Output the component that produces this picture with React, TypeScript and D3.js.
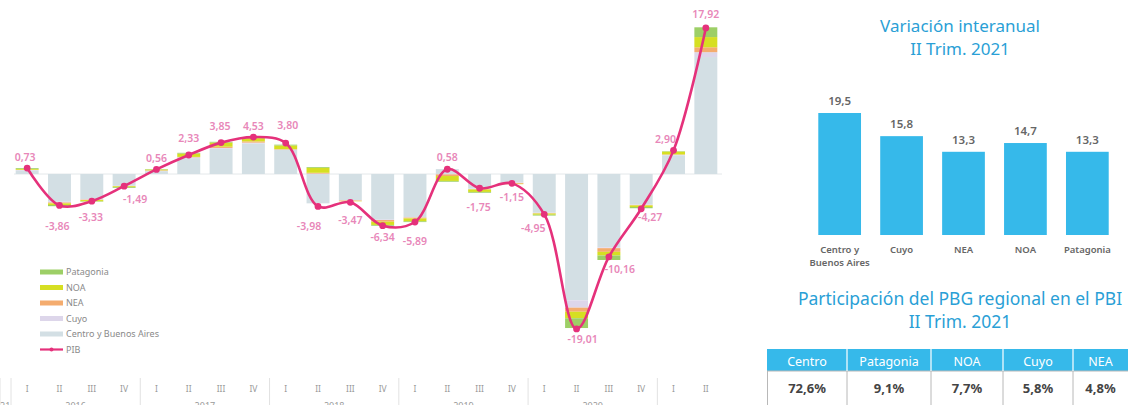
import React from "react";
import * as d3 from "d3";

const quarters = ["I","II","III","IV","I","II","III","IV","I","II","III","IV","I","II","III","IV","I","II","III","IV","I","II"];
const years = ["2016","2017","2018","2019","2020","2021"];
const yearQuarterCounts = [4,4,4,4,4,2];

const regions = ["Centro y Buenos Aires","Cuyo","NEA","NOA","Patagonia"];
const centro =    [0.45,-3.4,-3.1,-1.45,0.35,1.95,3.1,3.75,2.95,-3.6,-3.2,-5.6,-5.3,0.6,-1.8,-1.05,-4.75,-15.5,-9.0,-3.75,2.3,14.35];
const cuyo =      [0.05,-0.1,-0.05,-0.05,0.05,0.1,0.1,0.1,0.05,0.05,-0.05,-0.05,-0.05,-0.05,-0.05,-0.05,-0.05,-0.9,-0.1,-0.05,0.05,0.6];
const nea =       [0.02,-0.1,-0.05,0,0.05,0.05,0.15,0.15,0.05,0.1,-0.05,-0.2,-0.1,-0.2,-0.05,-0.1,-0.05,-0.5,-0.45,-0.05,0.05,0.6];
const noa =       [0.1,-0.2,-0.15,-0.1,0.1,0.4,0.5,0.4,0.45,0.6,-0.05,-0.4,-0.35,-0.6,-0.3,-0.05,-0.15,-0.8,-0.45,-0.2,0.35,1.25];
const patagonia = [0.1,-0.15,-0.05,-0.1,0.05,0.1,0.1,0.1,0.1,0.1,0,-0.1,-0.1,-0.1,-0.1,0,-0.1,-1.2,-0.55,-0.15,0.05,1.2];
const pib = [0.73,-3.86,-3.33,-1.49,0.56,2.33,3.85,4.53,3.80,-3.98,-3.47,-6.34,-5.89,0.58,-1.75,-1.15,-4.95,-19.01,-10.16,-4.27,2.90,17.92];
// label offsets (dx, dy) relative to the point
const labelDx = [-2,-2,-1,11,0,0,-1,0,2,-9,0,0,0,0,-1,0,-11,6,11,9,-8,0];
const labelDy = [-11,21,16,13,-11,-17,-16,-11,-18,20,18,12,19,-12,19,14,14,10,13,9,-11,-14];

const varCats = ["Centro y|Buenos Aires","Cuyo","NEA","NOA","Patagonia"];
const varValues = [19.5,15.8,13.3,14.7,13.3];

const shareCats = ["Centro","Patagonia","NOA","Cuyo","NEA"];
const shareValues = ["72,6%","9,1%","7,7%","5,8%","4,8%"];

const colors: Record<string,string> = {
  "Centro y Buenos Aires": "#d3dfe4",
  "Cuyo": "#ddd6ea",
  "NEA": "#f4ac6e",
  "NOA": "#d6df22",
  "Patagonia": "#9dcf66",
};
const PINK = "#e5317b";
const PINK_LABEL = "#e887b9";
const BLUE = "#36b9ea";
const TITLE_BLUE = "#2a9fd6";
const FONT = "'Noto Sans', 'Open Sans', sans-serif";

const fmt = (v: number) => v.toFixed(2).replace(".", ",");

export default function App() {
  const W = 1128, H = 405;
  const x = d3.scaleBand<number>().domain(d3.range(quarters.length)).range([11, 722]).paddingInner(0.29).paddingOuter(0.145);
  const k = 8.15;
  const y = d3.scaleLinear().domain([-20, 19]).range([174 + 20 * k, 174 - 19 * k]);

  const rows = quarters.map((_, i) => ({
    "Centro y Buenos Aires": centro[i], "Cuyo": cuyo[i], "NEA": nea[i], "NOA": noa[i], "Patagonia": patagonia[i],
  }));
  const series = d3.stack<any>().keys(regions).offset(d3.stackOffsetDiverging)(rows);

  const cx = (i: number) => (x(i) as number) + x.bandwidth() / 2;
  const line = d3.line<number>().x((_, i) => cx(i)).y(d => y(d)).curve(d3.curveCatmullRom.alpha(0.5));

  let acc = 0;
  const yearGroups = years.map((yr, j) => {
    const start = acc; acc += yearQuarterCounts[j];
    return { yr, start, end: acc };
  });
  const step = x.step();
  const leftEdge = (i: number) => cx(i) - step / 2;

  const x2 = d3.scaleBand<number>().domain(d3.range(varCats.length)).range([809, 1118]).paddingInner(0.31).paddingOuter(0.15);
  const y2 = d3.scaleLinear().domain([0, 19.5]).range([235, 113]);

  const legendItems = ["Patagonia","NOA","NEA","Cuyo","Centro y Buenos Aires"];

  const colEdges = [767, 847, 931, 1003, 1073, 1140];

  return (
    <svg width={W} height={H} style={{ position: "absolute", left: 0, top: 0, display: "block" }} fontFamily={FONT}>
      <rect width={W} height={H} fill="#fff" />
      <line x1={14} x2={722} y1={y(0)} y2={y(0)} stroke="#e4e8ea" strokeWidth={1} />
      {series.map(s => (
        <g key={s.key} fill={colors[s.key]}>
          {s.map((d, i) => (
            <rect key={i} x={x(i)} width={x.bandwidth()} y={y(Math.max(d[0], d[1]))} height={Math.abs(y(d[0]) - y(d[1]))} />
          ))}
        </g>
      ))}
      <path d={line(pib) || ""} fill="none" stroke={PINK} strokeWidth={2.6} />
      {pib.map((v, i) => (
        <circle key={i} cx={cx(i)} cy={y(v)} r={3.4} fill={PINK} />
      ))}
      {pib.map((v, i) => (
        <text key={"l" + i} x={cx(i) + labelDx[i]} y={y(v) + labelDy[i]} dy="0.35em" textAnchor="middle" fontSize={10.5} fontWeight={600} fill={PINK_LABEL}>{fmt(v)}</text>
      ))}
      {legendItems.map((name, j) => (
        <g key={name} transform={`translate(40, ${272 + j * 15.5})`}>
          <rect x={0} y={-2.5} width={23} height={5} fill={colors[name]} />
          <text x={26} y={0} dy="0.35em" fontSize={9} fill="#8a8a8a">{name}</text>
        </g>
      ))}
      <g transform={`translate(40, ${272 + 5 * 15.5})`}>
        <line x1={0} x2={23} y1={0} y2={0} stroke={PINK} strokeWidth={2.2} />
        <circle cx={11.5} cy={0} r={2} fill={PINK} />
        <text x={26} y={0} dy="0.35em" fontSize={9} fill="#8a8a8a">PIB</text>
      </g>
      {quarters.map((q, i) => (
        <text key={"q" + i} x={cx(i)} y={392} textAnchor="middle" fontSize={8.5} fill="#9a9a9a">{q}</text>
      ))}
      {yearGroups.map(g => (
        <line key={"s" + g.yr} x1={leftEdge(g.start)} x2={leftEdge(g.start)} y1={378} y2={405} stroke="#e2e2e2" />
      ))}
      <line x1={leftEdge(quarters.length)} x2={leftEdge(quarters.length)} y1={378} y2={405} stroke="#e2e2e2" />
      {yearGroups.map(g => (
        <text key={"y" + g.yr} x={(leftEdge(g.start) + leftEdge(g.end)) / 2} y={409} textAnchor="middle" fontSize={9} fill="#9a9a9a">{g.yr}</text>
      ))}

      <text x={960} y={32} textAnchor="middle" fontSize={17} fill={TITLE_BLUE}>Variación interanual</text>
      <text x={960} y={55} textAnchor="middle" fontSize={17} fill={TITLE_BLUE}>II Trim. 2021</text>
      {varValues.map((v, i) => (
        <g key={"v" + i}>
          <rect x={x2(i)} width={x2.bandwidth()} y={y2(v)} height={y2(0) - y2(v)} fill={BLUE} />
          <text x={(x2(i) as number) + x2.bandwidth() / 2} y={y2(v) - 8} textAnchor="middle" fontSize={11.5} fontWeight={600} fill="#666">{v.toFixed(1).replace(".", ",")}</text>
          {varCats[i].split("|").map((ln, j) => (
            <text key={j} x={(x2(i) as number) + x2.bandwidth() / 2} y={253 + j * 13} textAnchor="middle" fontSize={9.5} fontWeight={600} fill="#666">{ln}</text>
          ))}
        </g>
      ))}

      <text x={960} y={305} textAnchor="middle" fontSize={17.5} fill={TITLE_BLUE}>Participación del PBG regional en el PBI</text>
      <text x={960} y={328} textAnchor="middle" fontSize={17.5} fill={TITLE_BLUE}>II Trim. 2021</text>
      <rect x={colEdges[0]} y={349} width={1128 - colEdges[0]} height={22} fill={BLUE} />
      <rect x={colEdges[0] + 0.5} y={371} width={1128 - colEdges[0]} height={40} fill="#fff" stroke="#b8b8b8" />
      {shareCats.map((c, i) => {
        const mid = (colEdges[i] + Math.min(colEdges[i + 1], 1140)) / 2 - (i === 4 ? 6 : 0);
        return (
          <g key={"t" + i}>
            {i > 0 && <line x1={colEdges[i]} x2={colEdges[i]} y1={349} y2={371} stroke="#fff" strokeWidth={1.2} />}
            {i > 0 && <line x1={colEdges[i]} x2={colEdges[i]} y1={371} y2={405} stroke="#b8b8b8" strokeWidth={1} />}
            <text x={mid} y={366} textAnchor="middle" fontSize={12.5} fill="#fff">{c}</text>
            <text x={mid} y={393} textAnchor="middle" fontSize={13} fontWeight={700} fill="#444">{shareValues[i]}</text>
          </g>
        );
      })}
    </svg>
  );
}
